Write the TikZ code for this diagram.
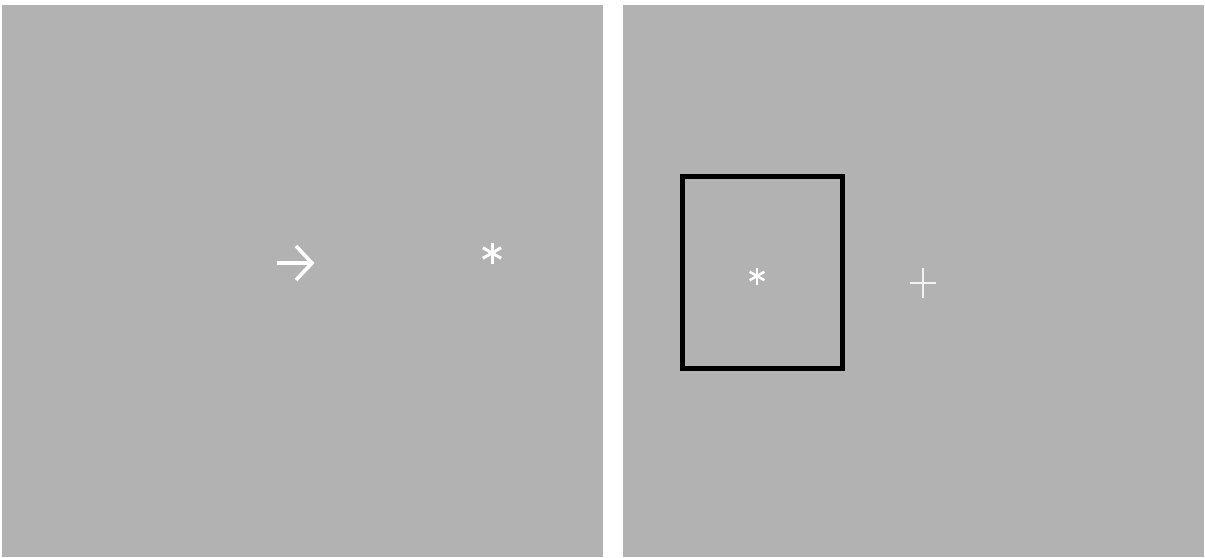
\documentclass[tikz,border=0pt]{standalone}
\usepackage{tikz}
\usetikzlibrary{positioning, calc}
\definecolor{ScreenGray}{HTML}{B2B2B2}
\definecolor{CueWhite}{HTML}{FFFFFF}
\definecolor{PlusWhite}{HTML}{F2F2F2}
\definecolor{FrameBlack}{HTML}{000000}

\begin{document}
\begin{tikzpicture}[x=1pt,y=-1pt]
\useasboundingbox (0,0) rectangle (1205,557);

% the two screens
\node[
    fill=ScreenGray,
    inner sep=0pt,
    minimum width=601pt,
    minimum height=552pt
] (cueScreen) at (302.5,281) {};

\node[
    fill=ScreenGray,
    inner sep=0pt,
    minimum width=581pt,
    minimum height=552pt
] (targetScreen) at (913.5,281) {};

% left screen: arrow cue and asterisk
\coordinate (arrowTail) at (277,263);
\coordinate (arrowTip) at (312,263);
\draw[CueWhite, line width=3.6pt] (arrowTail) -- (arrowTip);
\draw[CueWhite, line width=3.6pt, line join=miter]
    (296,246) -- (arrowTip) -- (296,280);

\coordinate (cueStar) at (492,253);
\foreach \ang in {90,30,150}
    \draw[CueWhite, line width=3pt]
        ($(cueStar)+(\ang:10.5)$) -- ($(cueStar)+(\ang+180:10.5)$);

% right screen: frame, asterisk and fixation cross
\node[
    draw=FrameBlack,
    line width=5pt,
    inner sep=0pt,
    minimum width=160pt,
    minimum height=192pt
] (targetFrame) at (762.5,272.5) {};

\coordinate (targetStar) at (757,276);
\foreach \ang in {90,30,150}
    \draw[CueWhite, line width=2.5pt]
        ($(targetStar)+(\ang:8.5)$) -- ($(targetStar)+(\ang+180:8.5)$);

\coordinate (fixCross) at (923,283);
\draw[PlusWhite, line width=1.8pt] ($(fixCross)+(-13,0)$) -- ($(fixCross)+(13,0)$);
\draw[PlusWhite, line width=1.8pt] ($(fixCross)+(0,-15)$) -- ($(fixCross)+(0,15)$);
\end{tikzpicture}
\end{document}
